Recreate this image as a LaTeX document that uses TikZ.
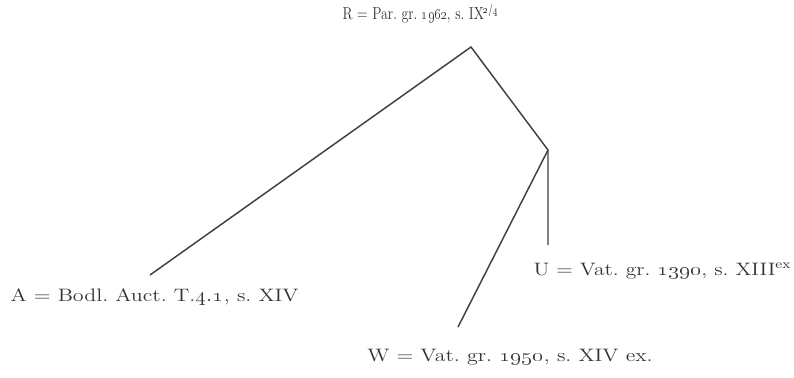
\documentclass[tikz,border=0pt]{standalone}
\usepackage{tikz}
\usetikzlibrary{positioning}

\newcommand{\widetext}[1]{\scalebox{1.22}[1]{#1}}
\newcommand{\narrowtext}[1]{\scalebox{0.8}[1]{#1}}

\begin{document}
\begin{tikzpicture}[x=0.75pt, y=-0.75pt,
    witness/.style={font=\fontsize{13.5}{15}\selectfont, text=black!80, inner sep=1pt},
    branch/.style={draw=black!75, line width=1.1pt}
]
\useasboundingbox (0,0) rectangle (794,378);

% archetype and hyparchetype
\coordinate (r) at (471,47);
\coordinate (b) at (548,150);
% ends of the branches
\coordinate (a) at (150,275);
\coordinate (w) at (458,327);
\coordinate (u) at (548,245);

% sigla
\node[witness, font=\fontsize{13}{15}\selectfont] (R) at (421,14) {\narrowtext{R = Par.\ gr.\ \oldstylenums{1962}, s.\ IX\textsuperscript{\oldstylenums{2/4}}}};
\node[witness, anchor=west] (A) at (9,297) {\widetext{A = Bodl.\ Auct.\ T.\oldstylenums{4.1}, s.\ XIV}};
\node[witness, anchor=west] (U) at (532,271) {\scalebox{1.2}[1]{U = Vat.\ gr.\ \oldstylenums{1390}, s.\ XIII\textsuperscript{ex}}};
\node[witness] (W) at (510,357) {\widetext{W = Vat.\ gr.\ \oldstylenums{1950}, s.\ XIV ex.}};

% stemma
\draw[branch] (a) -- (r) -- (b) -- (u);
\draw[branch] (b) -- (w);

\end{tikzpicture}
\end{document}
